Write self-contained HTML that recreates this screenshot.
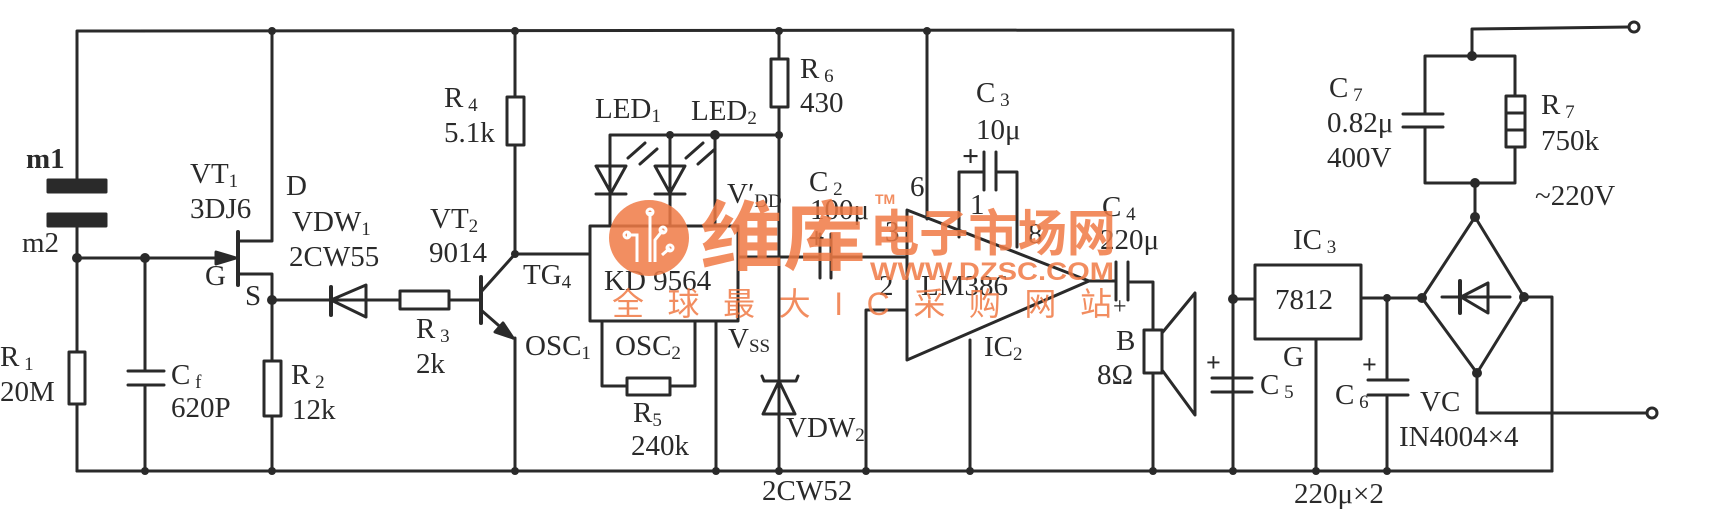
<!DOCTYPE html>
<html><head><meta charset="utf-8"><style>
html,body{margin:0;padding:0;background:#fff;}
svg{display:block}
text{font-family:"Liberation Serif",serif;font-size:29px;fill:#2a2a2a}
.s{font-size:19px}
.w{font-family:"Liberation Sans","Noto Sans CJK SC",sans-serif;fill:#f07a45;opacity:.85;font-weight:bold}
</style></head><body>
<svg width="1719" height="515" viewBox="0 0 1719 515" xmlns="http://www.w3.org/2000/svg">
<g stroke="#2a2a2a" stroke-width="3" fill="none" stroke-linecap="round" stroke-linejoin="round">
<polyline points="77,179 77,31 1233,30 1233,471"/>
<line x1="77" y1="471" x2="1552" y2="471"/>
<rect x="48" y="180" width="58" height="12" fill="#2a2a2a"/>
<rect x="48" y="214" width="58" height="12" fill="#2a2a2a"/>
<line x1="77" y1="226" x2="77" y2="352"/>
<rect x="69" y="352" width="16" height="52"/>
<line x1="77" y1="404" x2="77" y2="471"/>
<line x1="77" y1="258" x2="236" y2="258"/>
<polygon points="236,258 216,252 216,264" fill="#2a2a2a"/>
<line x1="145" y1="258" x2="145" y2="371"/>
<line x1="128" y1="371" x2="164" y2="371"/>
<line x1="128" y1="385" x2="164" y2="385"/>
<line x1="145" y1="385" x2="145" y2="471"/>
<line x1="238" y1="232" x2="238" y2="285" stroke-width="4"/>
<polyline points="238,241 272,241 272,31"/>
<polyline points="238,274 272,274 272,361"/>
<rect x="264" y="361" width="17" height="55"/>
<line x1="272" y1="416" x2="272" y2="471"/>
<line x1="272" y1="300" x2="400" y2="300"/>
<line x1="331" y1="287" x2="331" y2="315" stroke-width="4"/>
<polygon points="331,300 366,285 366,317" fill="none"/>
<rect x="400" y="291" width="49" height="18"/>
<line x1="449" y1="300" x2="480" y2="300"/>
<line x1="481" y1="277" x2="481" y2="323" stroke-width="4"/>
<line x1="481" y1="292" x2="515" y2="254"/>
<line x1="481" y1="310" x2="513" y2="338"/>
<polygon points="513,338 495,332 503,323" fill="#2a2a2a"/>
<line x1="515" y1="338" x2="515" y2="471"/>
<line x1="515" y1="31" x2="515" y2="97"/>
<rect x="507" y="97" width="17" height="48"/>
<line x1="515" y1="145" x2="515" y2="254"/>
<line x1="515" y1="254" x2="590" y2="254"/>
<rect x="590" y="226" width="148" height="95"/>
<polyline points="610,226 610,135 779,135"/>
<line x1="670" y1="135" x2="670" y2="226"/>
<line x1="715" y1="135" x2="715" y2="226"/>
<polygon points="596,166 626,166 611,193" fill="none"/>
<line x1="596" y1="194" x2="626" y2="194"/>
<polygon points="655,166 685,166 670,193" fill="none"/>
<line x1="655" y1="194" x2="685" y2="194"/>
<line x1="628" y1="158" x2="645" y2="143"/><line x1="640" y1="164" x2="657" y2="149"/>
<line x1="686" y1="158" x2="703" y2="143"/><line x1="698" y1="164" x2="715" y2="149"/>
<polyline points="602,321 602,386 627,386"/>
<rect x="627" y="378" width="43" height="17"/>
<polyline points="670,386 695,386 695,321"/>
<line x1="716" y1="321" x2="716" y2="471"/>
<line x1="779" y1="31" x2="779" y2="59"/>
<rect x="771" y="59" width="17" height="48"/>
<line x1="779" y1="107" x2="779" y2="471"/>
<polyline points="762,376 764,381 796,381 798,376"/>
<polygon points="779,381 763,414 795,414" fill="none"/>
<line x1="738" y1="257" x2="820" y2="257"/>
<line x1="820" y1="234" x2="820" y2="278"/>
<line x1="831" y1="234" x2="831" y2="278"/>
<line x1="831" y1="257" x2="907" y2="257"/>
<polygon points="907,210 907,360 1089,281"/>
<line x1="927" y1="31" x2="927" y2="219"/>
<polyline points="866,471 866,310 907,310"/>
<line x1="970" y1="340" x2="970" y2="471"/>
<polyline points="959,237 959,172 984,172"/>
<line x1="984" y1="152" x2="984" y2="190"/>
<line x1="996" y1="152" x2="996" y2="190"/>
<polyline points="996,172 1017,172 1017,247"/>
<line x1="1089" y1="281" x2="1116" y2="281"/>
<line x1="1116" y1="262" x2="1116" y2="300"/>
<line x1="1128" y1="262" x2="1128" y2="300"/>
<polyline points="1128,282 1153,282 1153,330"/>
<rect x="1144" y="330" width="18" height="43"/>
<line x1="1153" y1="373" x2="1153" y2="471"/>
<polygon points="1162,333 1195,293 1195,415 1162,370"/>
<line x1="1212" y1="378" x2="1252" y2="378"/>
<line x1="1212" y1="392" x2="1252" y2="392"/>
<line x1="1233" y1="299" x2="1255" y2="299"/>
<rect x="1255" y="265" width="106" height="74"/>
<line x1="1316" y1="339" x2="1316" y2="471"/>
<line x1="1361" y1="298" x2="1422" y2="298"/>
<line x1="1387" y1="298" x2="1387" y2="380"/>
<line x1="1368" y1="380" x2="1408" y2="380"/>
<line x1="1368" y1="395" x2="1408" y2="395"/>
<line x1="1387" y1="395" x2="1387" y2="471"/>
<polygon points="1475,217 1524,297 1477,373 1422,298"/>
<line x1="1442" y1="297" x2="1510" y2="297"/>
<line x1="1460" y1="281" x2="1460" y2="313" stroke-width="4"/>
<polygon points="1461,297 1488,283 1488,313" fill="none"/>
<polyline points="1524,297 1552,297 1552,471"/>
<polyline points="1477,373 1477,413 1647,413"/>
<circle cx="1652" cy="413" r="5"/>
<line x1="1475" y1="217" x2="1475" y2="183"/>
<polyline points="1425,114 1425,56 1515,56 1515,96"/>
<polyline points="1425,127 1425,183 1515,183 1515,147"/>
<line x1="1403" y1="114" x2="1443" y2="114"/>
<line x1="1403" y1="127" x2="1443" y2="127"/>
<rect x="1506" y="96" width="19" height="51" fill="#fff"/>
<line x1="1506" y1="113" x2="1525" y2="113"/>
<line x1="1506" y1="130" x2="1525" y2="130"/>
<polyline points="1472,56 1472,29 1629,27"/>
<circle cx="1634" cy="27" r="5"/>
</g>
<g fill="#2a2a2a">
<circle cx="272" cy="31" r="4"/><circle cx="515" cy="31" r="4"/><circle cx="779" cy="31" r="4"/><circle cx="927" cy="31" r="4"/>
<circle cx="77" cy="258" r="5"/><circle cx="145" cy="258" r="5"/><circle cx="272" cy="300" r="5"/><circle cx="515" cy="254" r="4"/>
<circle cx="670" cy="135" r="4"/><circle cx="715" cy="135" r="5"/><circle cx="779" cy="135" r="4"/>
<circle cx="145" cy="471" r="4"/><circle cx="272" cy="471" r="4"/><circle cx="515" cy="471" r="4"/><circle cx="716" cy="471" r="4"/><circle cx="779" cy="471" r="4"/>
<circle cx="866" cy="471" r="4"/><circle cx="970" cy="471" r="4"/><circle cx="1153" cy="471" r="4"/><circle cx="1233" cy="471" r="4"/><circle cx="1316" cy="471" r="4"/><circle cx="1387" cy="471" r="4"/>
<circle cx="1233" cy="299" r="5"/><circle cx="1387" cy="298" r="4"/><circle cx="1422" cy="298" r="5"/><circle cx="1524" cy="297" r="5"/><circle cx="1475" cy="217" r="5"/><circle cx="1477" cy="373" r="5"/>
<circle cx="1472" cy="56" r="5"/><circle cx="1475" cy="183" r="5"/>
</g>
<text x="26" y="168" font-weight="bold">m1</text>
<text x="22" y="252">m2</text>
<text x="190" y="183">VT<tspan class="s" dy="4">1</tspan></text>
<text x="190" y="218">3DJ6</text>
<text x="286" y="195">D</text>
<text x="292" y="231">VDW<tspan class="s" dy="4">1</tspan></text>
<text x="289" y="266">2CW55</text>
<text x="430" y="228">VT<tspan class="s" dy="4">2</tspan></text>
<text x="429" y="262">9014</text>
<text x="205" y="285">G</text>
<text x="245" y="305">S</text>
<text x="444" y="107">R<tspan class="s" dy="4"> 4</tspan></text>
<text x="444" y="142">5.1k</text>
<text x="595" y="118">LED<tspan class="s" dy="4">1</tspan></text>
<text x="691" y="120">LED<tspan class="s" dy="4">2</tspan></text>
<text x="800" y="78">R<tspan class="s" dy="4"> 6</tspan></text>
<text x="800" y="112">430</text>
<text x="727" y="203">V′<tspan class="s" dy="4">DD</tspan></text>
<text x="523" y="284">TG<tspan class="s" dy="4">4</tspan></text>
<text x="604" y="290">KD  9564</text>
<text x="416" y="338">R<tspan class="s" dy="4"> 3</tspan></text>
<text x="416" y="373">2k</text>
<text x="525" y="355">OSC<tspan class="s" dy="4">1</tspan></text>
<text x="615" y="355">OSC<tspan class="s" dy="4">2</tspan></text>
<text x="728" y="348">V<tspan class="s" dy="4">SS</tspan></text>
<text x="0" y="366">R<tspan class="s" dy="4"> 1</tspan></text>
<text x="0" y="401">20M</text>
<text x="171" y="384">C<tspan class="s" dy="4"> f</tspan></text>
<text x="171" y="417">620P</text>
<text x="291" y="384">R<tspan class="s" dy="4"> 2</tspan></text>
<text x="292" y="419">12k</text>
<text x="633" y="422">R<tspan class="s" dy="4">5</tspan></text>
<text x="631" y="455">240k</text>
<text x="786" y="437">VDW<tspan class="s" dy="4">2</tspan></text>
<text x="762" y="500">2CW52</text>
<text x="809" y="191">C<tspan class="s" dy="4"> 2</tspan></text>
<text x="810" y="219">100μ</text>
<text x="976" y="102">C<tspan class="s" dy="4"> 3</tspan></text>
<text x="976" y="139">10μ</text>
<text x="910" y="196">6</text>
<text x="885" y="241">3</text>
<text x="970" y="214">1</text>
<text x="1028" y="243">8</text>
<text x="879" y="295">2</text>
<text x="921" y="295">LM386</text>
<text x="1102" y="216">C<tspan class="s" dy="4"> 4</tspan></text>
<text x="1100" y="249">220μ</text>
<text x="984" y="356">IC<tspan class="s" dy="4">2</tspan></text>
<text x="1116" y="350">B</text>
<text x="1097" y="384">8Ω</text>
<text x="1260" y="394">C<tspan class="s" dy="4"> 5</tspan></text>
<text x="1293" y="249">IC<tspan class="s" dy="4"> 3</tspan></text>
<text x="1275" y="309">7812</text>
<text x="1283" y="366">G</text>
<text x="1335" y="404">C<tspan class="s" dy="4"> 6</tspan></text>
<text x="1420" y="411">VC</text>
<text x="1399" y="446">IN4004×4</text>
<text x="1294" y="503">220μ×2</text>
<text x="1329" y="97">C<tspan class="s" dy="4"> 7</tspan></text>
<text x="1327" y="132">0.82μ</text>
<text x="1327" y="167">400V</text>
<text x="1541" y="114">R<tspan class="s" dy="4"> 7</tspan></text>
<text x="1541" y="150">750k</text>
<text x="1535" y="205">~220V</text>
<text x="962" y="166" style="font-size:30px;font-weight:bold">+</text>
<text x="808" y="248" style="font-size:30px;font-weight:bold">+</text>
<text x="1113" y="314" style="font-size:24px">+</text>
<text x="1206" y="371" style="font-size:26px;font-weight:bold">+</text>
<text x="1362" y="373" style="font-size:26px;font-weight:bold">+</text>
<ellipse cx="649" cy="238" rx="40" ry="38" fill="#f07a45" opacity="0.85"/>
<g stroke="#fff" stroke-width="3" fill="none"><polyline points="627,235 637,235 637,262"/><polyline points="650,212 650,262"/><polyline points="663,230 655,240 655,262"/><polyline points="670,248 662,255"/><circle cx="627" cy="235" r="3"/><circle cx="650" cy="212" r="3"/><circle cx="663" cy="230" r="3"/><circle cx="670" cy="248" r="3"/></g>
<text class="w" x="700" y="264" style="font-size:76px" textLength="166" lengthAdjust="spacingAndGlyphs">维库</text>
<text class="w" x="870" y="251" style="font-size:50px" textLength="246" lengthAdjust="spacingAndGlyphs">电子市场网</text>
<text class="w" x="870" y="280" style="font-size:25px" textLength="244" lengthAdjust="spacingAndGlyphs">WWW.DZSC.COM</text>
<text class="w" x="612" y="315" style="font-size:32px;font-weight:normal" textLength="500" lengthAdjust="spacing">全球最大IC采购网站</text>
<text class="w" x="875" y="204" style="font-size:14px">TM</text>
</svg>
</body></html>
